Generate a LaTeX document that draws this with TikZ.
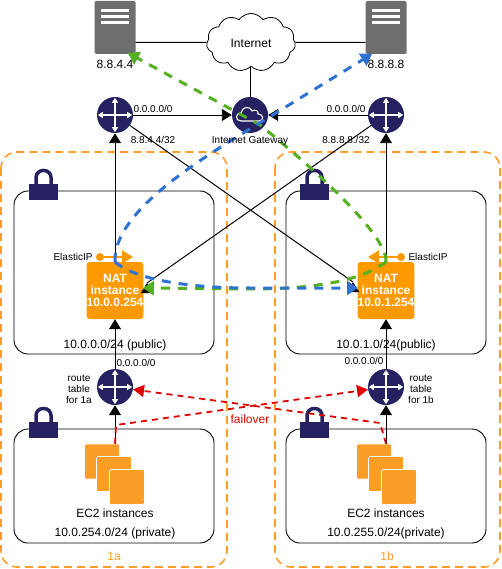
\documentclass[tikz,border=0pt]{standalone}
\usepackage{fontspec}
\setmainfont{Liberation Sans}
\usetikzlibrary{arrows.meta,shapes.symbols}
\definecolor{navy}{HTML}{262261}
\definecolor{servergray}{HTML}{6D6E70}
\definecolor{natorange}{HTML}{FF9900}
\definecolor{ecorange}{HTML}{F99D26}
\definecolor{azorange}{HTML}{FF9D2A}
\definecolor{bluepath}{HTML}{2E73D2}
\definecolor{greenpath}{HTML}{55B020}
\definecolor{redpath}{HTML}{E00000}
\tikzset{
  lab/.style={inner sep=0pt, font=\fontsize{10}{11}\selectfont, align=center},
  biglab/.style={inner sep=0pt, font=\fontsize{12}{14}\selectfont, align=center},
  azbox/.style={draw=azorange, line width=1.6pt, dash pattern=on 8pt off 5pt, rounded corners=16pt},
  subnet/.style={draw, line width=0.9pt, rounded corners=14pt, minimum width=200pt, inner sep=0pt},
  server/.style={fill=servergray, rounded corners=1.5pt, minimum width=41pt, minimum height=53pt, inner sep=0pt},
  router/.style={circle, fill=navy, minimum size=36pt, inner sep=0pt},
  natbox/.style={fill=natorange, rounded corners=3pt, minimum width=56pt, minimum height=57pt, inner sep=0pt, text=white, align=center, font=\fontsize{12}{12}\bfseries\selectfont},
  ecbox/.style={fill=ecorange, draw=white, line width=0.6pt, rounded corners=1.5pt, minimum size=35pt, inner sep=0pt},
  eipdot/.style={circle, fill=natorange, minimum size=8pt, inner sep=0pt},
  blk/.style={draw=black, line width=0.9pt, -{Triangle[length=10pt,width=12pt]}},
  plain/.style={draw=black, line width=1pt},
  eiparrow/.style={draw=natorange, line width=2.4pt, -{Triangle[length=11pt,width=13pt]}},
  bluedash/.style={draw=bluepath, line width=3pt, dash pattern=on 9pt off 8pt, -{Triangle[length=11pt,width=14pt]}},
  greendash/.style={draw=greenpath, line width=3pt, dash pattern=on 9pt off 8pt, -{Triangle[length=11pt,width=14pt]}},
  reddash/.style={draw=redpath, line width=1.8pt, dash pattern=on 6pt off 5pt, -{Triangle[length=11pt,width=12pt]}},
  lockicon/.pic={
    \draw[navy, line width=3.5pt, rounded corners=7pt] (-7.5,2) -- (-7.5,-13.5) -- (7.5,-13.5) -- (7.5,2);
    \fill[navy] (-14.5,0) rectangle (14.5,16);
  }
}
\begin{document}
\begin{tikzpicture}[x=1pt,y=-1pt]
\useasboundingbox (0,0) rectangle (501,569);
\draw[azbox] (1,152) rectangle (227,567);
\draw[azbox] (275,152) rectangle (500,567);
\node[subnet, minimum height=163pt] (publ) at (114,272.5) {};
\node[subnet, minimum height=163pt] (pubr) at (386,272.5) {};
\node[subnet, minimum height=114pt] (pril) at (114,486) {};
\node[subnet, minimum height=114pt] (prir) at (386,486) {};
\pic at (43.5,184) {lockicon};
\pic at (314.5,184) {lockicon};
\pic at (43.5,422) {lockicon};
\pic at (314.5,422) {lockicon};
\node[server] (sl) at (115,27.5) {};
\node[server] (sr) at (386,27.5) {};
\foreach \n in {sl,sr} \foreach \d in {9.5,16,22}
  \draw[white, line width=3pt] ([xshift=-14pt,yshift=-\d pt]\n.north) -- ([xshift=14pt,yshift=-\d pt]\n.north);
\node[biglab] (sllab) at (115,64) {8.8.4.4};
\node[biglab] (srlab) at (386,64) {8.8.8.8};
\node[cloud, draw, line width=0.8pt, fill=white, cloud puffs=11, cloud puff arc=110, aspect=1.6, minimum width=89pt, minimum height=58pt, inner sep=0pt] (inet) at (251,42.5) {};
\node[biglab] (inetlab) at (251,43) {Internet};
\node[router] (rl) at (115,115) {};
\node[router] (rr) at (386,115) {};
\node[router] (gw) at (250,115) {};
\node[router] (rtl) at (115,387) {};
\node[router] (rtr) at (386,387) {};
\node[natbox] (natl) at (115,290.5) {NAT\\instance\\10.0.0.254};
\node[natbox] (natr) at (386,290.5) {NAT\\instance\\10.0.1.254};
\node[ecbox] (ecl1) at (102,461.5) {};
\node[ecbox] (ecl2) at (114,474) {};
\node[ecbox] (ecl3) at (127,487) {};
\node[ecbox] (ecr1) at (374,461.5) {};
\node[ecbox] (ecr2) at (386,474) {};
\node[ecbox] (ecr3) at (399,487) {};
\node[eipdot] (eipl) at (100,257) {};
\node[eipdot] (eipr) at (401,257) {};
\coordinate (eipltip) at (133,257);
\coordinate (eiprtip) at (368,257);
\coordinate (natlin) at (147,283);
\coordinate (natrin) at (353,282);
\coordinate (natlfoot) at (147,291);
\coordinate (natrfoot) at (353,290);
\coordinate (sltip) at (128,53);
\coordinate (srtip) at (372,54);
\coordinate (natlgreen) at (143,288);
\coordinate (natrblue) at (358,288);
\coordinate (bendl) at (116,425);
\coordinate (bendr) at (380,423);
\coordinate (bluetop) at (240,135);
\coordinate (bluemid) at (250,288);
\coordinate (greentop) at (260,125);
\coordinate (greenmid) at (250,289);
\draw[plain] (sl.east |- inet) -- (inet);
\draw[plain] (inet) -- (sr.west |- inet);
\draw[plain] (gw |- inet.south) -- (gw);
\draw[blk] (rl) -- (gw);
\draw[blk] (rr) -- (gw);
\draw[blk] (natl) -- (rl);
\draw[blk] (natr) -- (rr);
\draw[blk] (rtl) -- (natl);
\draw[blk] (rtr) -- (natr);
\draw[blk] (ecl1.north -| rtl) -- (rtl);
\draw[blk] (ecr1.north -| rtr) -- (rtr);
\draw[plain] (rl) -- (natrin);
\draw[plain] (rr) -- (natlin);
\draw[blk] (natlfoot) -- (natlin);
\draw[blk] (natrfoot) -- (natrin);
\draw[eiparrow] (eipl) -- (eipltip);
\draw[eiparrow] (eipr) -- (eiprtip);
\foreach \n in {rl,rr,rtl,rtr} {
  \draw[white, line width=1.2pt, {Triangle[length=5pt,width=6pt]}-{Triangle[length=5pt,width=6pt]}] ([yshift=1pt]\n.south) -- ([yshift=-1pt]\n.north);
  \draw[white, line width=1.2pt, {Triangle[length=5pt,width=6pt]}-{Triangle[length=5pt,width=6pt]}] ([xshift=1pt]\n.west) -- ([xshift=-1pt]\n.east);
}
\draw[white, line width=1.1pt, fill=navy, shift={(gw)}] (-9,6) .. controls (-15,6) and (-15,-2) .. (-9,-2) .. controls (-8,-8) and (-1,-10) .. (2,-4) .. controls (5,-6) and (9,-4) .. (8,-1) .. controls (14,-1) and (14,6) .. (9,6) -- cycle;
\draw[greendash] (natr.north) .. controls (388,235) and (310,165) .. (greentop) -- (sltip);
\draw[greendash] (natr.north) .. controls (360,282) and (310,289) .. (greenmid) -- (natlgreen);
\draw[bluedash] (natl.north) .. controls (113,215) and (190,166) .. (bluetop) -- (srtip);
\draw[bluedash] (natl.north) .. controls (135,280) and (190,288) .. (bluemid) -- (natrblue);
\draw[reddash] (ecl1.north -| rtl) -- (bendl) -- (rtr);
\draw[reddash] (ecr1.north -| rtr) -- (bendr) -- (rtl);
\node[lab] (eiplab) at (73,257) {ElasticIP};
\node[lab] (eiprlab) at (428,257) {ElasticIP};
\node[lab] (rlall) at (153,109) {0.0.0.0/0};
\node[lab] (rrall) at (346,109) {0.0.0.0/0};
\node[lab] (rlhost) at (153,140) {8.8.4.4/32};
\node[lab] (rrhost) at (346,140) {8.8.8.8./32};
\node[lab] (gwlab) at (250,141) {Internet Gateway};
\node[biglab] (publlab) at (115,345) {10.0.0.0/24 (public)};
\node[biglab] (pubrlab) at (386,345) {10.0.1.0/24(public)};
\node[lab] (rtlall) at (136,363) {0.0.0.0/0};
\node[lab] (rtrall) at (364,361) {0.0.0.0/0};
\node[lab] (rtllab) at (79,389) {route\\table\\for 1a};
\node[lab] (rtrlab) at (421,389) {route\\table\\for 1b};
\node[biglab, text=redpath] (failover) at (250,419) {failover};
\node[biglab] (eclab) at (115,513) {EC2 instances};
\node[biglab] (ecrlab) at (386,513) {EC2 instances};
\node[biglab] (prillab) at (115,533) {10.0.254.0/24 (private)};
\node[biglab] (prirlab) at (386,533) {10.0.255.0/24(private)};
\node[biglab, text=azorange] (azl) at (114,556) {1a};
\node[biglab, text=azorange] (azr) at (387,556) {1b};
\end{tikzpicture}
\end{document}
